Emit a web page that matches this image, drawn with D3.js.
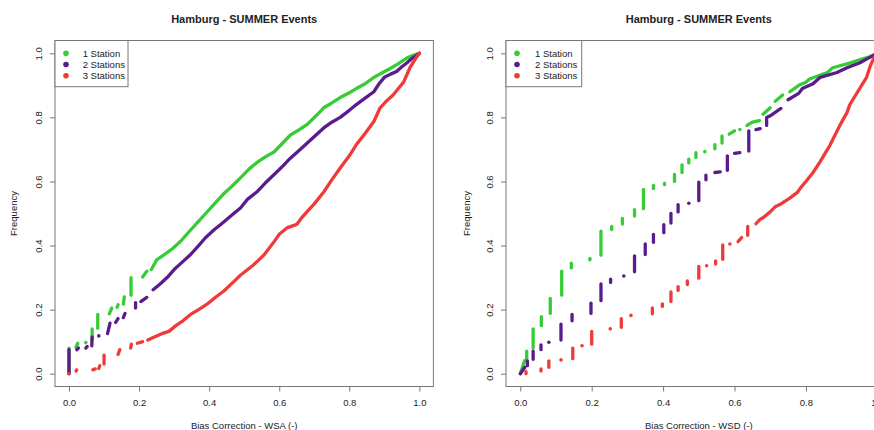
<!DOCTYPE html>
<html>
<head>
<meta charset="utf-8">
<script src="https://cdn.jsdelivr.net/npm/d3@7"></script>
<style>
  html, body { margin: 0; padding: 0; background: #fff; }
  svg { display: block; font-family: "Liberation Sans", Arial, Helvetica, sans-serif; }
</style>
</head>
<body>
<svg id="chart" width="874" height="430"></svg>
<script>
// ---------------- DATA ----------------
const chartTitle = "Hamburg - SUMMER Events";
const seriesNames = ["1 Station", "2 Stations", "3 Stations"];
const seriesColors = ["#36cc36", "#5a1b8c", "#f03a3a"];
const tickValues = [0, 0.2, 0.4, 0.6, 0.8, 1.0];
const tickLabels = ["0.0", "0.2", "0.4", "0.6", "0.8", "1.0"];
const xLabels = ["Bias Correction - WSA (-)", "Bias Correction - WSD (-)"];
const yLabel = "Frequency";

// ECDF knots [x, cumulative frequency]; null separates visually distinct runs
const wsa1 = [
  [0,0],[0,0.08], null,
  [0.02,0.082],[0.025,0.095], null,
  [0.048,0.097], null,
  [0.066,0.105],[0.066,0.14], null,
  [0.082,0.142],[0.082,0.185], null,
  [0.115,0.187],[0.122,0.205], null,
  [0.137,0.207],[0.14,0.215], null,
  [0.155,0.217],[0.158,0.24], null,
  [0.177,0.245],[0.177,0.30], null,
  [0.21,0.302],[0.222,0.32], null,
  [0.235,0.325],[0.25,0.355],[0.27,0.37],[0.295,0.39],[0.32,0.415],[0.34,0.44],[0.365,0.47],
  [0.39,0.5],[0.415,0.53],[0.44,0.56],[0.465,0.585],[0.49,0.612],[0.515,0.64],[0.54,0.662],
  [0.565,0.68],[0.585,0.692],[0.61,0.72],[0.632,0.745],[0.655,0.76],[0.68,0.778],[0.705,0.805],
  [0.727,0.83],[0.75,0.845],[0.774,0.862],[0.8,0.877],[0.82,0.89],[0.845,0.905],[0.87,0.925],
  [0.895,0.94],[0.916,0.952],[0.94,0.968],[0.964,0.985],[0.98,0.993],[1,1]
];
const wsa2 = [
  [0,0],[0,0.075], null,
  [0.022,0.075],[0.027,0.08], null,
  [0.048,0.08],[0.052,0.085], null,
  [0.065,0.087],[0.066,0.115], null,
  [0.085,0.118], null,
  [0.11,0.125],[0.117,0.158], null,
  [0.133,0.16],[0.14,0.172], null,
  [0.155,0.175],[0.16,0.188], null,
  [0.19,0.205],[0.19,0.222], null,
  [0.205,0.225],[0.222,0.238], null,
  [0.24,0.262],[0.26,0.28],[0.28,0.3],[0.3,0.325],[0.32,0.345],[0.347,0.372],[0.37,0.4],
  [0.39,0.425],[0.415,0.45],[0.44,0.472],[0.465,0.495],[0.49,0.518],[0.51,0.545],[0.537,0.568],
  [0.56,0.595],[0.584,0.62],[0.61,0.648],[0.631,0.672],[0.655,0.695],[0.68,0.72],[0.705,0.745],
  [0.727,0.767],[0.75,0.785],[0.774,0.80],[0.8,0.822],[0.82,0.84],[0.845,0.86],[0.87,0.88],
  [0.885,0.905],[0.9,0.925],[0.918,0.935],[0.935,0.943],[0.95,0.958],[0.964,0.97],[0.98,0.985],[1,1]
];
const wsa3 = [
  [0,0], null,
  [0.02,0.008],[0.022,0.012], null,
  [0.068,0.012],[0.075,0.015], null,
  [0.085,0.016],[0.088,0.025], null,
  [0.1,0.03],[0.1,0.058], null,
  [0.14,0.06],[0.145,0.075], null,
  [0.176,0.08],[0.178,0.092], null,
  [0.195,0.095],[0.21,0.1], null,
  [0.225,0.105],[0.245,0.115],[0.265,0.125],[0.285,0.132],[0.305,0.15],[0.325,0.165],[0.347,0.185],
  [0.37,0.2],[0.395,0.218],[0.42,0.24],[0.442,0.258],[0.465,0.282],[0.49,0.308],[0.51,0.325],
  [0.527,0.34],[0.556,0.37],[0.584,0.41],[0.6,0.435],[0.622,0.455],[0.65,0.466],[0.665,0.488],
  [0.679,0.505],[0.7,0.53],[0.727,0.567],[0.75,0.605],[0.774,0.642],[0.8,0.68],[0.82,0.715],
  [0.845,0.75],[0.87,0.787],[0.888,0.83],[0.905,0.85],[0.925,0.87],[0.94,0.89],[0.955,0.91],
  [0.973,0.955],[0.99,0.985],[1,1]
];
const wsd1 = [
  [0,0],[0.006,0.02],[0.012,0.04],[0.018,0.045],[0.018,0.07], null,
  [0.036,0.08],[0.036,0.14], null,
  [0.059,0.15],[0.059,0.178], null,
  [0.084,0.188],[0.084,0.235], null,
  [0.116,0.245],[0.116,0.32], null,
  [0.143,0.33],[0.143,0.345], null,
  [0.195,0.355],[0.195,0.36], null,
  [0.226,0.37],[0.226,0.445], null,
  [0.256,0.45],[0.256,0.46], null,
  [0.286,0.467],[0.286,0.485], null,
  [0.32,0.492],[0.32,0.512], null,
  [0.345,0.515],[0.345,0.575], null,
  [0.373,0.578],[0.373,0.588], null,
  [0.404,0.59],[0.404,0.595], null,
  [0.432,0.6],[0.432,0.622], null,
  [0.453,0.628],[0.453,0.652], null,
  [0.472,0.658],[0.472,0.67], null,
  [0.492,0.675],[0.492,0.69], null,
  [0.517,0.693], null,
  [0.545,0.702],[0.545,0.715], null,
  [0.565,0.72],[0.565,0.742], null,
  [0.585,0.748],[0.6,0.758], null,
  [0.615,0.762], null,
  [0.635,0.775],[0.65,0.785],[0.67,0.79], null,
  [0.68,0.81],[0.7,0.83], null,
  [0.714,0.85],[0.735,0.87], null,
  [0.755,0.88],[0.78,0.9],[0.8,0.91],[0.81,0.92],[0.86,0.94],[0.875,0.955],[0.925,0.97],
  [0.95,0.98],[0.98,0.99],[1,1]
];
const wsd2 = [
  [0,0],[0.013,0.02], null,
  [0.02,0.025],[0.02,0.04], null,
  [0.036,0.045],[0.036,0.07], null,
  [0.058,0.075],[0.058,0.09], null,
  [0.08,0.098], null,
  [0.114,0.105],[0.114,0.155], null,
  [0.145,0.165],[0.145,0.185], null,
  [0.198,0.188],[0.198,0.22], null,
  [0.226,0.228],[0.226,0.28], null,
  [0.253,0.285],[0.253,0.295], null,
  [0.29,0.305], null,
  [0.32,0.318],[0.32,0.368], null,
  [0.35,0.372],[0.35,0.405], null,
  [0.373,0.41],[0.373,0.435], null,
  [0.402,0.44],[0.402,0.465], null,
  [0.422,0.47],[0.422,0.5], null,
  [0.442,0.505],[0.442,0.528], null,
  [0.472,0.532], null,
  [0.5,0.54],[0.5,0.598], null,
  [0.52,0.605],[0.52,0.62], null,
  [0.545,0.628],[0.56,0.63], null,
  [0.58,0.635],[0.58,0.68], null,
  [0.6,0.688],[0.615,0.69], null,
  [0.64,0.695],[0.64,0.758], null,
  [0.66,0.762],[0.672,0.765], null,
  [0.69,0.775],[0.69,0.8],[0.70,0.805],[0.73,0.828], null,
  [0.75,0.855],[0.78,0.875],[0.79,0.89],[0.82,0.905],[0.84,0.925],[0.887,0.94],[0.915,0.955],
  [0.95,0.97],[0.975,0.985],[1,1]
];
const wsd3 = [
  [0.016,0.0],[0.016,0.006], null,
  [0.058,0.008],[0.058,0.015], null,
  [0.08,0.02],[0.08,0.04], null,
  [0.114,0.043], null,
  [0.147,0.047],[0.147,0.08], null,
  [0.173,0.087], null,
  [0.2,0.092],[0.2,0.132], null,
  [0.252,0.14], null,
  [0.283,0.145],[0.283,0.172], null,
  [0.31,0.182], null,
  [0.37,0.187],[0.37,0.205], null,
  [0.398,0.21],[0.398,0.218], null,
  [0.422,0.225],[0.422,0.255], null,
  [0.442,0.26],[0.442,0.272], null,
  [0.468,0.278],[0.468,0.29], null,
  [0.5,0.298],[0.5,0.335], null,
  [0.522,0.337], null,
  [0.547,0.342],[0.547,0.352], null,
  [0.567,0.357],[0.567,0.402], null,
  [0.587,0.405], null,
  [0.61,0.412],[0.62,0.425], null,
  [0.637,0.432],[0.637,0.46], null,
  [0.66,0.468],[0.67,0.48],[0.68,0.487],[0.7,0.505],[0.715,0.522],[0.73,0.53],[0.755,0.548],
  [0.775,0.565],[0.785,0.58],[0.8,0.6],[0.82,0.628],[0.84,0.662],[0.855,0.69],[0.867,0.712],
  [0.877,0.735],[0.895,0.775],[0.915,0.815],[0.923,0.84],[0.945,0.88],[0.97,0.925],[0.98,0.96],
  [0.99,0.985],[1,1]
];

// ---------------- DRAW ----------------
const svg = d3.select("#chart");
const panels = [
  { series: [wsa1, wsa2, wsa3], xlab: xLabels[0], left: 55, right: 433.4, ylabX: 16.5, legW: 73, legText: 27.7 },
  { series: [wsd1, wsd2, wsd3], xlab: xLabels[1], left: 506, right: 891.6, ylabX: 469.5, legW: 75.7, legText: 29 }
];
const plotTop = 40.5, plotBottom = 386.5;
const textColor = "#222";
const frameColor = "#777";

panels.forEach(p => {
  const x = d3.scaleLinear().domain([-0.04, 1.04]).range([p.left, p.right]);
  const y = d3.scaleLinear().domain([-0.04, 1.04]).range([plotBottom, plotTop]);
  const g = svg.append("g");

  // Title
  g.append("text")
    .attr("x", (p.left + p.right) / 2).attr("y", 23)
    .attr("text-anchor", "middle")
    .attr("font-size", "11px").attr("font-weight", "bold")
    .attr("fill", textColor)
    .text(chartTitle);

  // Series (ECDF points)
  const line = d3.line().x(d => x(d[0])).y(d => y(d[1]));
  p.series.forEach((data, si) => {
    const color = seriesColors[si];
    const runs = [];
    let cur = [];
    data.forEach(d => {
      if (d === null) { if (cur.length) runs.push(cur); cur = []; }
      else cur.push(d);
    });
    if (cur.length) runs.push(cur);
    const sg = g.append("g");
    runs.forEach(r => {
      if (r.length === 1) {
        sg.append("circle").attr("cx", x(r[0][0])).attr("cy", y(r[0][1]))
          .attr("r", 1.8).attr("fill", color);
      } else {
        sg.append("path").attr("d", line(r))
          .attr("fill", "none").attr("stroke", color)
          .attr("stroke-width", 3.3)
          .attr("stroke-linecap", "round").attr("stroke-linejoin", "round");
      }
    });
  });

  // Frame
  g.append("rect")
    .attr("x", p.left).attr("y", plotTop)
    .attr("width", p.right - p.left).attr("height", plotBottom - plotTop)
    .attr("fill", "none").attr("stroke", frameColor).attr("stroke-width", 1);

  // X axis
  const xAxis = g.append("g").attr("transform", `translate(0,${plotBottom})`)
    .call(d3.axisBottom(x).tickValues(tickValues)
      .tickFormat((d, i) => tickLabels[i]).tickSize(5).tickSizeOuter(0));
  xAxis.select(".domain").remove();
  xAxis.selectAll("line").attr("stroke", frameColor);
  xAxis.selectAll("text").attr("y", 13).attr("fill", textColor)
    .attr("font-size", "9.5px").attr("font-family", "Liberation Sans, Arial, sans-serif");

  // Y axis
  const yAxis = g.append("g").attr("transform", `translate(${p.left},0)`)
    .call(d3.axisLeft(y).tickValues(tickValues)
      .tickFormat((d, i) => tickLabels[i]).tickSize(5).tickSizeOuter(0));
  yAxis.select(".domain").remove();
  yAxis.selectAll("line").attr("stroke", frameColor);
  yAxis.selectAll("text")
    .attr("transform", "rotate(-90)")
    .attr("x", 0).attr("y", -13.5).attr("dy", "0")
    .attr("text-anchor", "middle").attr("fill", textColor)
    .attr("font-size", "9.5px").attr("font-family", "Liberation Sans, Arial, sans-serif");

  // Axis titles
  g.append("text")
    .attr("x", (p.left + p.right) / 2).attr("y", 429)
    .attr("text-anchor", "middle").attr("font-size", "9.5px").attr("fill", textColor)
    .text(p.xlab);
  g.append("text")
    .attr("transform", `translate(${p.ylabX},${(plotTop + plotBottom) / 2}) rotate(-90)`)
    .attr("text-anchor", "middle").attr("font-size", "9.5px").attr("fill", textColor)
    .text(yLabel);

  // Legend
  const lg = g.append("g");
  lg.append("rect")
    .attr("x", p.left).attr("y", plotTop)
    .attr("width", p.legW).attr("height", 46.2)
    .attr("fill", "#fff").attr("stroke", frameColor).attr("stroke-width", 1);
  seriesNames.forEach((name, i) => {
    const cy = 53.3 + i * 11.2;
    lg.append("circle").attr("cx", p.left + 11).attr("cy", cy).attr("r", 2.8)
      .attr("fill", seriesColors[i]);
    lg.append("text").attr("x", p.left + p.legText).attr("y", cy)
      .attr("dy", "0.35em").attr("font-size", "9.5px").attr("fill", textColor)
      .text(name);
  });
});
</script>
</body>
</html>
